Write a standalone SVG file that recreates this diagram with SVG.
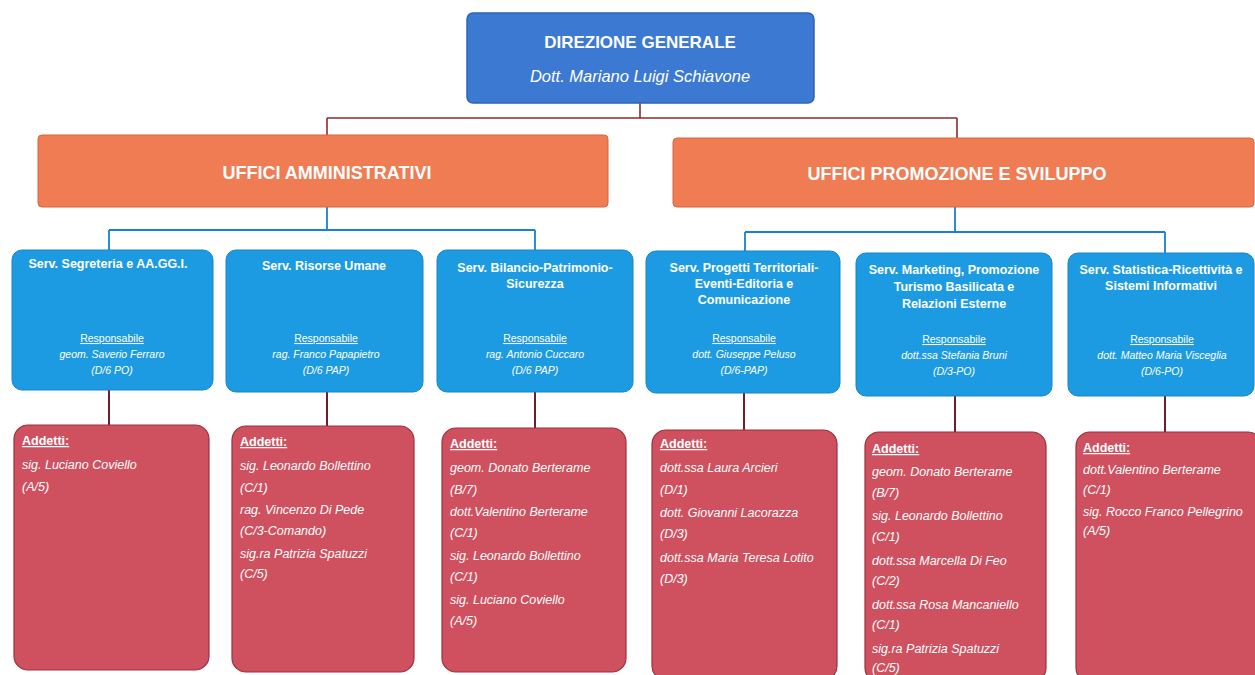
<svg xmlns="http://www.w3.org/2000/svg" width="1255" height="675" viewBox="0 0 1255 675">
<style>
text{font-family:"Liberation Sans",Arial,sans-serif;fill:#ffffff}
.top{fill:#3c79d2;stroke:#2f63b0;stroke-width:1.5}
.org{fill:#ef7c53;stroke:#d9643e;stroke-width:1}
.svc{fill:#1d9be2;stroke:#1685c8;stroke-width:1}
.add{fill:#cf505e;stroke:#9e2f3e;stroke-width:1.2}
.h1{font-size:17px;font-weight:bold;text-anchor:middle}
.h1i{font-size:16.5px;font-style:italic;text-anchor:middle}
.h2{font-size:18px;font-weight:bold;text-anchor:middle}
.st{font-size:12.5px;font-weight:bold;text-anchor:middle}
.resp{font-size:10.5px;text-anchor:middle;text-decoration:underline}
.rn{font-size:10.5px;font-style:italic;text-anchor:middle}
.ah{font-size:12.5px;font-weight:bold;text-decoration:underline}
.al{font-size:12.5px;font-style:italic}
.c1{fill:none;stroke:#8e2b2b;stroke-width:1.6}
.c2{fill:none;stroke:#1a7fd0;stroke-width:1.8}
.c3{fill:none;stroke:#6e1e2e;stroke-width:2}
</style>
<rect width="1255" height="675" fill="#ffffff"/>
<g id="connectors">
<path class="c1" d="M640 103V118M327 118H957M327 118V135M957 118V138"/>
<path class="c2" d="M327 207V230M109 230H535M109 230V250M535 230V250M955 207V232M745 232H1165M745 232V251M1165 232V253"/>
<path class="c3" d="M109 390V425M327 392V426M535 392V428M744 393V430M955 396V432M1165 396V432"/>
</g>
<g id="direzione">
<rect class="top" x="467" y="13" width="347" height="90" rx="6"/>
<text class="h1" x="640" y="48">DIREZIONE GENERALE</text>
<text class="h1i" x="640" y="82">Dott. Mariano Luigi Schiavone</text>
</g>
<g id="uffici-amministrativi">
<rect class="org" x="38" y="135" width="570" height="72" rx="4"/>
<text class="h2" x="327" y="179">UFFICI AMMINISTRATIVI</text>
</g>
<g id="uffici-promozione">
<rect class="org" x="673" y="138" width="581" height="69" rx="4"/>
<text class="h2" x="957" y="180">UFFICI PROMOZIONE E SVILUPPO</text>
</g>
<g id="serv-segreteria">
<rect class="svc" x="12" y="250" width="201" height="140" rx="10"/>
<text class="st" x="108" y="268">Serv. Segreteria e AA.GG.I.</text>
<text class="resp" x="112" y="342">Responsabile</text>
<text class="rn" x="112" y="358">geom. Saverio Ferraro</text>
<text class="rn" x="112" y="374">(D/6 PO)</text>
</g>
<g id="serv-risorse">
<rect class="svc" x="226" y="250" width="197" height="142" rx="10"/>
<text class="st" x="324" y="270">Serv. Risorse Umane</text>
<text class="resp" x="326" y="342">Responsabile</text>
<text class="rn" x="326" y="358">rag. Franco Papapietro</text>
<text class="rn" x="326" y="374">(D/6 PAP)</text>
</g>
<g id="serv-bilancio">
<rect class="svc" x="437" y="250" width="196" height="142" rx="10"/>
<text class="st" x="535" y="272">Serv. Bilancio-Patrimonio-</text>
<text class="st" x="535" y="288">Sicurezza</text>
<text class="resp" x="535" y="342">Responsabile</text>
<text class="rn" x="535" y="358">rag. Antonio Cuccaro</text>
<text class="rn" x="535" y="374">(D/6 PAP)</text>
</g>
<g id="serv-progetti">
<rect class="svc" x="646" y="251" width="194" height="142" rx="10"/>
<text class="st" x="744" y="272">Serv. Progetti Territoriali-</text>
<text class="st" x="744" y="288">Eventi-Editoria e</text>
<text class="st" x="744" y="304">Comunicazione</text>
<text class="resp" x="744" y="342">Responsabile</text>
<text class="rn" x="744" y="358">dott. Giuseppe Peluso</text>
<text class="rn" x="744" y="374">(D/6-PAP)</text>
</g>
<g id="serv-marketing">
<rect class="svc" x="856" y="253" width="196" height="143" rx="10"/>
<text class="st" x="954" y="274">Serv. Marketing, Promozione</text>
<text class="st" x="954" y="291">Turismo Basilicata e</text>
<text class="st" x="954" y="308">Relazioni Esterne</text>
<text class="resp" x="954" y="343">Responsabile</text>
<text class="rn" x="954" y="359">dott.ssa Stefania Bruni</text>
<text class="rn" x="954" y="375">(D/3-PO)</text>
</g>
<g id="serv-statistica">
<rect class="svc" x="1068" y="253" width="186" height="143" rx="10"/>
<text class="st" x="1161" y="274">Serv. Statistica-Ricettività e</text>
<text class="st" x="1161" y="290">Sistemi Informativi</text>
<text class="resp" x="1162" y="343">Responsabile</text>
<text class="rn" x="1162" y="359">dott. Matteo Maria Visceglia</text>
<text class="rn" x="1162" y="375">(D/6-PO)</text>
</g>
<g id="addetti-segreteria">
<rect class="add" x="14" y="425" width="195" height="245" rx="14"/>
<text class="ah" x="22" y="445">Addetti:</text>
<text class="al" x="22" y="469">sig. Luciano Coviello</text>
<text class="al" x="22" y="491">(A/5)</text>
</g>
<g id="addetti-risorse">
<rect class="add" x="232" y="426" width="182" height="246" rx="14"/>
<text class="ah" x="240" y="446">Addetti:</text>
<text class="al" x="240" y="470">sig. Leonardo Bollettino</text>
<text class="al" x="240" y="492">(C/1)</text>
<text class="al" x="240" y="514">rag. Vincenzo Di Pede</text>
<text class="al" x="240" y="535">(C/3-Comando)</text>
<text class="al" x="240" y="558">sig.ra Patrizia Spatuzzi</text>
<text class="al" x="240" y="578">(C/5)</text>
</g>
<g id="addetti-bilancio">
<rect class="add" x="442" y="428" width="184" height="244" rx="14"/>
<text class="ah" x="450" y="448">Addetti:</text>
<text class="al" x="450" y="472">geom. Donato Berterame</text>
<text class="al" x="450" y="494">(B/7)</text>
<text class="al" x="450" y="516">dott.Valentino Berterame</text>
<text class="al" x="450" y="537">(C/1)</text>
<text class="al" x="450" y="560">sig. Leonardo Bollettino</text>
<text class="al" x="450" y="581">(C/1)</text>
<text class="al" x="450" y="604">sig. Luciano Coviello</text>
<text class="al" x="450" y="625">(A/5)</text>
</g>
<g id="addetti-progetti">
<rect class="add" x="652" y="430" width="185" height="250" rx="14"/>
<text class="ah" x="660" y="448">Addetti:</text>
<text class="al" x="660" y="472">dott.ssa Laura Arcieri</text>
<text class="al" x="660" y="494">(D/1)</text>
<text class="al" x="660" y="517">dott. Giovanni Lacorazza</text>
<text class="al" x="660" y="538">(D/3)</text>
<text class="al" x="660" y="562">dott.ssa Maria Teresa Lotito</text>
<text class="al" x="660" y="583">(D/3)</text>
</g>
<g id="addetti-marketing">
<rect class="add" x="865" y="432" width="181" height="250" rx="14"/>
<text class="ah" x="872" y="453">Addetti:</text>
<text class="al" x="872" y="476">geom. Donato Berterame</text>
<text class="al" x="872" y="497">(B/7)</text>
<text class="al" x="872" y="520">sig. Leonardo Bollettino</text>
<text class="al" x="872" y="541">(C/1)</text>
<text class="al" x="872" y="565">dott.ssa Marcella Di Feo</text>
<text class="al" x="872" y="585">(C/2)</text>
<text class="al" x="872" y="609">dott.ssa Rosa Mancaniello</text>
<text class="al" x="872" y="629">(C/1)</text>
<text class="al" x="872" y="653">sig.ra Patrizia Spatuzzi</text>
<text class="al" x="872" y="672">(C/5)</text>
</g>
<g id="addetti-statistica">
<rect class="add" x="1076" y="432" width="186" height="250" rx="14"/>
<text class="ah" x="1083" y="452">Addetti:</text>
<text class="al" x="1083" y="474">dott.Valentino Berterame</text>
<text class="al" x="1083" y="494">(C/1)</text>
<text class="al" x="1083" y="516">sig. Rocco Franco Pellegrino</text>
<text class="al" x="1083" y="535">(A/5)</text>
</g>
</svg>
